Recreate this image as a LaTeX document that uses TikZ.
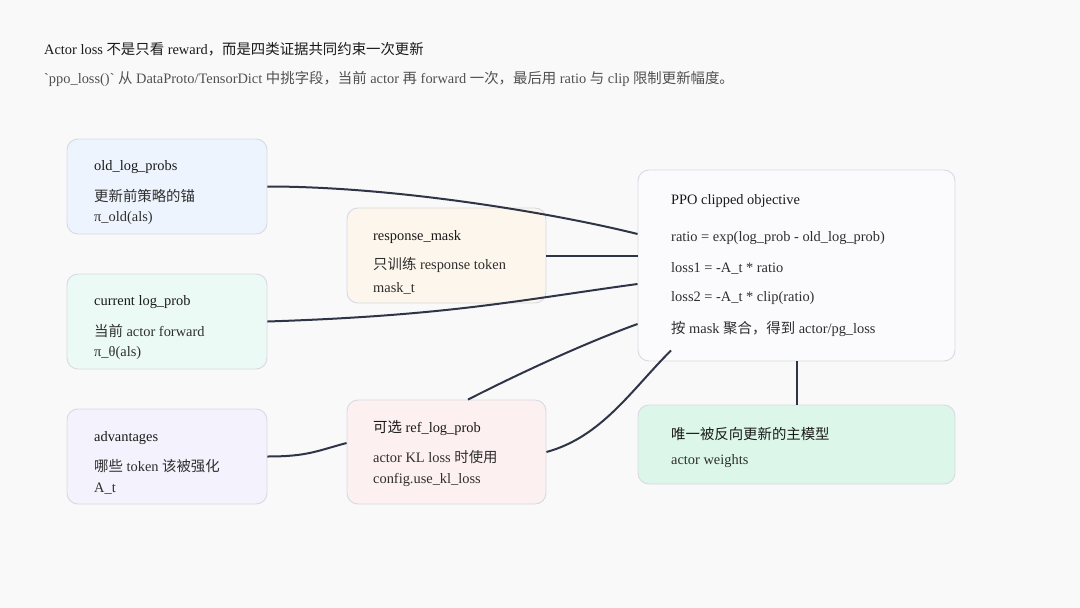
\documentclass[tikz,border=0pt]{standalone}
\usepackage{fontspec}
\setmainfont{Liberation Serif}
\newfontfamily\cjk{Noto Sans CJK SC}
\definecolor{bgc}{HTML}{F9F9FA}
\definecolor{bord}{HTML}{D6DAE3}
\definecolor{edgec}{HTML}{2F3547}
\definecolor{fblue}{HTML}{EEF4FE}
\definecolor{fcream}{HTML}{FDF6EC}
\definecolor{fmint}{HTML}{ECFAF5}
\definecolor{flav}{HTML}{F3F2FD}
\definecolor{fpink}{HTML}{FDF0F0}
\definecolor{fwhite}{HTML}{FBFBFD}
\definecolor{fgreen}{HTML}{DCF7E9}
\definecolor{tdark}{HTML}{1A1A1A}
\definecolor{tbody}{HTML}{2E2E2E}
\definecolor{tsub}{HTML}{505050}
\tikzset{
  box/.style={draw=bord, line width=0.9pt, rounded corners=11pt, inner sep=0pt},
  ttl/.style={anchor=west, inner sep=0pt, text=tdark, font=\fontsize{14.4}{17}\selectfont},
  bd/.style={anchor=west, inner sep=0pt, text=tbody, font=\fontsize{14.4}{17}\selectfont},
  conn/.style={draw=edgec, line width=2pt},
}
\begin{document}
\begin{tikzpicture}[x=1pt,y=-1pt]
\fill[bgc] (0,0) rectangle (1080,608);
\useasboundingbox (0,0) rectangle (1080,608);
% header
\node[ttl] (title) at (44,49) {Actor loss {\cjk 不是只看} reward{\cjk ，而是四类证据共同约束一次更新}};
\node[bd, text=tsub] (sub) at (44,79) {\textasciigrave ppo\_loss()\textasciigrave{} {\cjk 从} DataProto/TensorDict {\cjk 中挑字段，当前} actor {\cjk 再} forward {\cjk 一次，最后用} ratio {\cjk 与} clip {\cjk 限制更新幅度。}};
% boxes
\node[box, fill=fblue, minimum width=200pt, minimum height=95pt] (b1) at (167,186.5) {};
\node[box, fill=fcream, minimum width=199pt, minimum height=95pt] (b2) at (446.5,255.5) {};
\node[box, fill=fmint, minimum width=200pt, minimum height=95pt] (b3) at (167,321.5) {};
\node[box, fill=flav, minimum width=200pt, minimum height=95pt] (b4) at (167,456.5) {};
\node[box, fill=fpink, minimum width=199pt, minimum height=104pt] (b5) at (446.5,452) {};
\node[box, fill=fwhite, minimum width=317pt, minimum height=191pt] (b6) at (796.5,265.5) {};
\node[box, fill=fgreen, minimum width=317pt, minimum height=79pt] (b7) at (796.5,444.5) {};
% box texts
\node[ttl] (b1t) at (94,167) {old\_log\_probs};
\node[bd] (b1a) at (94,196) {\cjk 更新前策略的锚};
\node[bd] (b1b) at (94,218) {π\_old(als)};
\node[ttl] (b2t) at (373,237) {response\_mask};
\node[bd] (b2a) at (373,265) {{\cjk 只训练} response token};
\node[bd] (b2b) at (373,288) {mask\_t};
\node[ttl] (b3t) at (94,302) {current log\_prob};
\node[bd] (b3a) at (94,331) {{\cjk 当前} actor forward};
\node[bd] (b3b) at (94,353) {π\_θ(als)};
\node[ttl] (b4t) at (94,438) {advantages};
\node[bd] (b4a) at (94,466) {{\cjk 哪些} token {\cjk 该被强化}};
\node[bd] (b4b) at (94,489) {A\_t};
\node[ttl] (b5t) at (373,428) {{\cjk 可选} ref\_log\_prob};
\node[bd] (b5a) at (373,457) {actor KL loss {\cjk 时使用}};
\node[bd] (b5b) at (373,480) {config.use\_kl\_loss};
\node[ttl] (b6t) at (671,201) {PPO clipped objective};
\node[bd] (b6a) at (671,238) {ratio = exp(log\_prob - old\_log\_prob)};
\node[bd] (b6b) at (671,268) {loss1 = -A\_t * ratio};
\node[bd] (b6c) at (671,298) {loss2 = -A\_t * clip(ratio)};
\node[bd] (b6d) at (671,329) {{\cjk 按} mask {\cjk 聚合，得到} actor/pg\_loss};
\node[ttl] (b7t) at (671,434) {\cjk 唯一被反向更新的主模型};
\node[bd] (b7a) at (671,461) {actor weights};
% connectors
\draw[conn] (b1.east) .. controls +(130,0) and +(-80,-20) .. ([yshift=31.5pt]b6.west);
\draw[conn] (b2.east) -- (b6.west |- b2.east);
\draw[conn] (b3.east) .. controls +(183,-6) and +(-118,16) .. ([yshift=-18.5pt]b6.west);
\draw[conn] (b4.east) .. controls +(40,0) and +(-30,8) .. ([yshift=9pt]b5.west);
\draw[conn] ([xshift=21.5pt]b5.north) .. controls +(55,-28) and +(-50,18) .. ([yshift=-58.5pt]b6.west);
\draw[conn] (b5.east) .. controls +(55,-15) and +(-40,40) .. ([xshift=-125.5pt,yshift=11pt]b6.south);
\draw[conn] (b6.south) -- (b7.north);
\end{tikzpicture}
\end{document}
